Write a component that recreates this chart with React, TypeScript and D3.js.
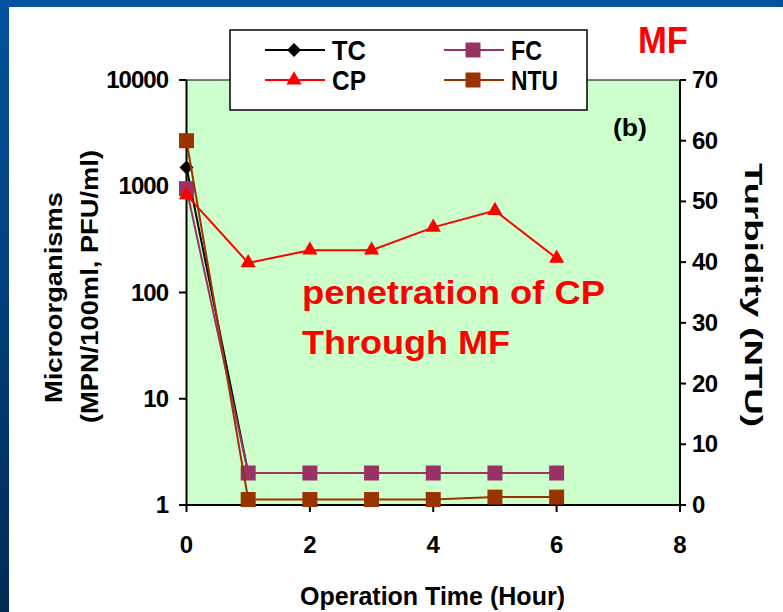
import React from 'react';
import * as d3 from 'd3';

// hours of operation
const hours = [0, 1, 2, 3, 4, 5, 6];
// microorganisms (log axis)
const tcValues = [1500, 2, 2, 2, 2, 2, 2];
const fcValues = [950, 2, 2, 2, 2, 2, 2];
const cpValues = [830, 190, 250, 250, 410, 590, 210];
// turbidity (right axis)
const ntuValues = [60, 0.9, 0.9, 0.9, 0.9, 1.3, 1.3];

const xTicks = [0, 2, 4, 6, 8];
const leftTicks = [1, 10, 100, 1000, 10000];
const rightTicks = [0, 10, 20, 30, 40, 50, 60, 70];

const W = 783;
const H = 612;
const font = '"Liberation Sans", Arial, sans-serif';

const x = d3.scaleLinear().domain([0, 8]).range([186.5, 680]);
const yLeft = d3.scaleLog().domain([1, 10000]).range([505, 80]);
const yRight = d3.scaleLinear().domain([0, 70]).range([505, 80]);

const series = [
  { name: 'TC', values: tcValues, color: '#000000', marker: 'diamond', axis: 'left', w: 34 },
  { name: 'FC', values: fcValues, color: '#993366', marker: 'square', axis: 'left', w: 31 },
  { name: 'CP', values: cpValues, color: '#FF0000', marker: 'triangle', axis: 'left', w: 34 },
  { name: 'NTU', values: ntuValues, color: '#993300', marker: 'square', axis: 'right', w: 47 },
];

const squarePath = d3.symbol().type(d3.symbolSquare).size(15 * 15)();
const trianglePath = d3.symbol().type(d3.symbolTriangle).size(100)();
const diamondPath = 'M0,-7L7,0L0,7L-7,0Z';

function markerPath(kind: string) {
  if (kind === 'square') return squarePath;
  if (kind === 'triangle') return trianglePath;
  return diamondPath;
}

function Marker({ kind, color, cx, cy }: { kind: string; color: string; cx: number; cy: number }) {
  return <path d={markerPath(kind) as string} transform={`translate(${cx},${cy})`} fill={color} />;
}

export default function App() {
  const legendItems = [
    { s: series[0], lx: 265, ly: 50 },
    { s: series[2], lx: 265, ly: 80 },
    { s: series[1], lx: 444, ly: 50 },
    { s: series[3], lx: 444, ly: 80 },
  ];

  return (
    <svg width={W} height={H} style={{ position: 'absolute', left: 0, top: 0, display: 'block' }}>
      <defs>
        <linearGradient id="bg" x1="0" y1="0" x2="0" y2="1">
          <stop offset="0" stopColor="#0452a0" />
          <stop offset="1" stopColor="#012a55" />
        </linearGradient>
      </defs>
      <rect width={W} height={H} fill="url(#bg)" />
      <rect x={9} y={7} width={W - 9} height={H - 7} fill="#ffffff" />

      {/* plot area */}
      <rect x={x(0)} y={80} width={x(8) - x(0)} height={425} fill="#CCFFCC" />
      <line x1={x(0)} x2={x(8)} y1={80} y2={80} stroke="#000" strokeWidth={1} />

      {/* left axis */}
      <line x1={x(0)} x2={x(0)} y1={80} y2={506} stroke="#000" strokeWidth={2} />
      {leftTicks.map((t) => (
        <g key={`l${t}`}>
          <line x1={179} x2={x(0)} y1={yLeft(t)} y2={yLeft(t)} stroke="#000" strokeWidth={2} />
          <text x={168} y={yLeft(t) + 8} textAnchor="end" fontFamily={font} fontWeight="bold" fontSize={24} letterSpacing={-1}>
            {t}
          </text>
        </g>
      ))}

      {/* right axis */}
      <line x1={680} x2={680} y1={80} y2={506} stroke="#000" strokeWidth={2} />
      {rightTicks.map((t) => (
        <g key={`r${t}`}>
          <line x1={680} x2={686} y1={yRight(t)} y2={yRight(t)} stroke="#000" strokeWidth={2} />
          <text x={692} y={yRight(t) + 8} fontFamily={font} fontWeight="bold" fontSize={24} letterSpacing={-0.5}>
            {t}
          </text>
        </g>
      ))}

      {/* bottom axis */}
      <line x1={179} x2={681} y1={505} y2={505} stroke="#000" strokeWidth={2} />
      {xTicks.map((t) => (
        <g key={`x${t}`}>
          <line x1={x(t)} x2={x(t)} y1={505} y2={512} stroke="#000" strokeWidth={2} />
          <text x={x(t)} y={553} textAnchor="middle" fontFamily={font} fontWeight="bold" fontSize={24}>
            {t}
          </text>
        </g>
      ))}

      {/* series */}
      {series.map((s) => {
        const yScale = s.axis === 'left' ? yLeft : yRight;
        const line = d3
          .line<number>()
          .x((d, i) => x(hours[i]))
          .y((d) => yScale(d));
        return (
          <g key={s.name}>
            <path d={line(s.values) as string} fill="none" stroke={s.color} strokeWidth={2} />
            {s.values.map((v, i) => (
              <Marker key={i} kind={s.marker} color={s.color} cx={x(hours[i])} cy={yScale(v)} />
            ))}
          </g>
        );
      })}

      {/* legend */}
      <rect x={230} y={30} width={357} height={80} fill="#fff" stroke="#000" strokeWidth={1.5} />
      {legendItems.map(({ s, lx, ly }) => (
        <g key={`lg${s.name}`}>
          <line x1={lx} x2={lx + 60} y1={ly} y2={ly} stroke={s.color} strokeWidth={2} />
          <Marker kind={s.marker} color={s.color} cx={lx + 29} cy={ly} />
          <text x={lx + 67} y={ly + 10} fontFamily={font} fontWeight="bold" fontSize={27} textLength={s.w} lengthAdjust="spacingAndGlyphs">
            {s.name}
          </text>
        </g>
      ))}

      {/* annotations */}
      <text x={638} y={53} fontFamily={font} fontWeight="bold" fontSize={36} fill="#FF0000" textLength={50} lengthAdjust="spacingAndGlyphs">
        MF
      </text>
      <text x={613} y={136} fontFamily={font} fontWeight="bold" fontSize={24} textLength={34} lengthAdjust="spacingAndGlyphs">
        (b)
      </text>
      <text x={302} y={304} fontFamily={font} fontWeight="bold" fontSize={34} fill="#FF0000" textLength={303} lengthAdjust="spacingAndGlyphs">
        penetration of CP
      </text>
      <text x={302} y={354} fontFamily={font} fontWeight="bold" fontSize={34} fill="#FF0000" textLength={208} lengthAdjust="spacingAndGlyphs">
        Through MF
      </text>

      {/* axis titles */}
      <text transform="translate(62,403) rotate(-90)" fontFamily={font} fontWeight="bold" fontSize={24} textLength={211} lengthAdjust="spacingAndGlyphs">
        Microorganisms
      </text>
      <text transform="translate(98,423) rotate(-90)" fontFamily={font} fontWeight="bold" fontSize={24} textLength={273} lengthAdjust="spacingAndGlyphs">
        (MPN/100ml, PFU/ml)
      </text>
      <text transform="translate(745,163) rotate(90)" fontFamily={font} fontWeight="bold" fontSize={23} textLength={264} lengthAdjust="spacingAndGlyphs">
        Turbidity (NTU)
      </text>
      <text x={300} y={605} fontFamily={font} fontWeight="bold" fontSize={25} textLength={265} lengthAdjust="spacingAndGlyphs">
        Operation Time (Hour)
      </text>
    </svg>
  );
}
